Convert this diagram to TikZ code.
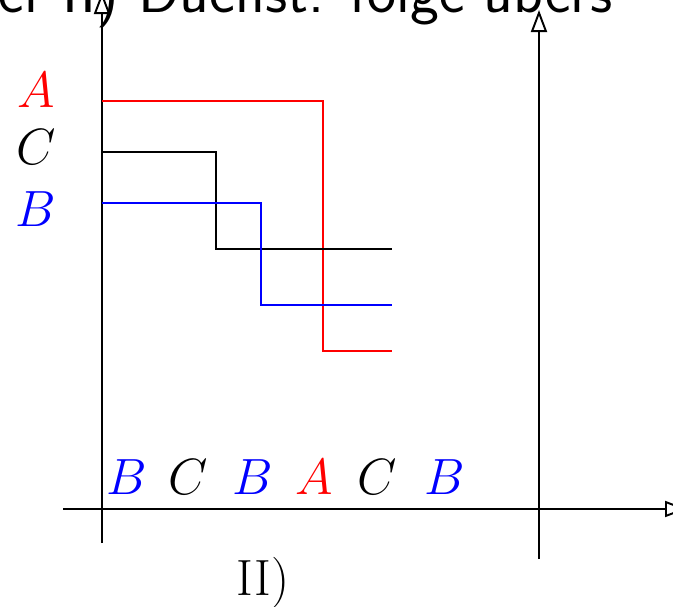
\documentclass[tikz,border=0pt]{standalone}
\usepackage{fix-cm}
\usepackage{fontspec}
\usetikzlibrary{arrows.meta, positioning}

\begin{document}
\begin{tikzpicture}[x=0.02cm, y=-0.02cm,
    axis/.style={line width=1.1pt, -{Triangle[open, length=0.44cm, width=0.32cm]}},
    stair/.style={line width=1.1pt},
    letter/.style={inner sep=0pt, anchor=base, font=\fontsize{29}{35}\selectfont},
    title/.style={inner sep=0pt, anchor=base west, font=\sffamily\fontsize{35}{42}\selectfont}]
\useasboundingbox (0,0) rectangle (673,606);

% axes
\coordinate (ytop) at (102,-8);
\coordinate (ybot) at (102,543);
\coordinate (xleft) at (63,509);
\coordinate (xright) at (687,509);
\coordinate (ztop) at (539,10);
\coordinate (zbot) at (539,559);
\draw[axis] (ybot) -- (ytop);
\draw[axis] (xleft) -- (xright);
\draw[axis] (zbot) -- (ztop);

% heading (cut off)
\node[title] (head) at (-2,12) {er II) Duchst. folge übers};

% stairs
\draw[stair, red] (102,101) -| (323,351) -- (392,351);
\draw[stair] (102,152) -| (216,249) -- (392,249);
\draw[stair, blue] (102,203) -| (261,305) -- (392,305);

% labels left
\node[letter, red] (lA) at (36,107) {$A$};
\node[letter] (lC) at (36,164) {$C$};
\node[letter, blue] (lB) at (36,226) {$B$};

% sequence
\node[letter, blue] (s1) at (127,494) {$B$};
\node[letter] (s2) at (188,494) {$C$};
\node[letter, blue] (s3) at (253,494) {$B$};
\node[letter, red] (s4) at (314,494) {$A$};
\node[letter] (s5) at (377,494) {$C$};
\node[letter, blue] (s6) at (445,494) {$B$};

\node[letter] (part) at (263,595) {II)};
\end{tikzpicture}
\end{document}
